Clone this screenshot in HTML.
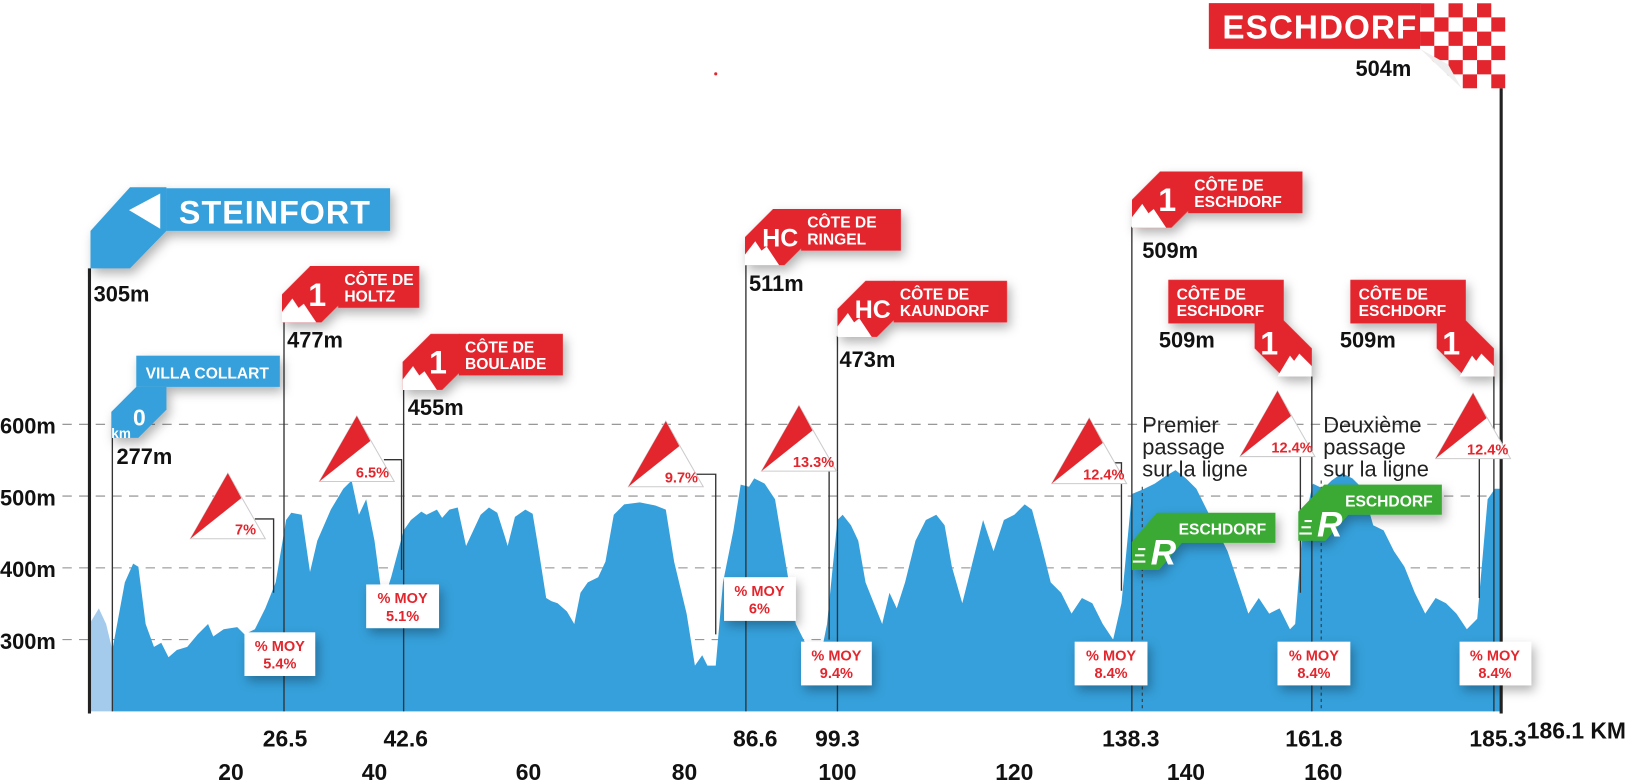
<!DOCTYPE html>
<html><head><meta charset="utf-8"><style>
html,body{margin:0;padding:0;background:#fff;}
svg{display:block;}
text{font-family:"Liberation Sans",sans-serif;}
.b{font-weight:bold;}
</style></head><body>
<svg width="1626" height="780" viewBox="0 0 1563 750" preserveAspectRatio="none" xmlns="http://www.w3.org/2000/svg">
<defs>
<filter id="sh" x="-30%" y="-30%" width="160%" height="170%"><feDropShadow dx="3" dy="5" stdDeviation="5" flood-color="#000" flood-opacity="0.3"/></filter>
<clipPath id="chk"><polygon points="1365,3 1447,3 1447,85 1405,85 1365,47"/></clipPath>
</defs>

<!-- grid -->
<g stroke="#8a8a8a" stroke-width="1" stroke-dasharray="9,7">
<line x1="60" y1="408" x2="1442" y2="408"/>
<line x1="60" y1="477" x2="1442" y2="477"/>
<line x1="60" y1="546" x2="1442" y2="546"/>
<line x1="60" y1="615" x2="1442" y2="615"/>
</g>
<g class="b" font-size="21" fill="#111">
<text x="0" y="417">600m</text><text x="0" y="486">500m</text><text x="0" y="555">400m</text><text x="0" y="624">300m</text>
</g>

<!-- profile -->
<polygon fill="#a4cbec" points="86,684 86,600 95,585 102,600 108,625 108,684"/>
<polygon fill="#35a0db" points="108,684 108,625 120,560 128,542 133,545 140,600 148,622 155,618 162,632 170,625 180,622 190,610 200,600 205,612 215,605 228,603 235,610 245,605 255,585 265,560 275,500 280,493 290,495 298,550 305,520 318,490 330,470 338,462 345,495 352,480 360,520 368,580 376,555 388,510 395,500 405,492 410,495 420,490 425,498 432,490 440,488 448,525 455,510 462,495 470,488 478,493 485,515 488,525 495,497 505,490 512,494 518,530 525,575 530,578 536,580 545,588 552,600 558,570 565,560 575,555 582,540 590,495 600,485 615,483 630,486 640,490 648,540 660,590 668,640 675,630 680,640 688,640 695,560 705,510 712,466 720,468 725,460 735,465 745,480 755,540 765,600 775,620 785,650 795,600 805,500 810,495 818,505 825,520 832,560 840,580 848,600 855,570 862,585 870,560 880,520 890,500 900,495 908,505 915,545 925,580 935,540 945,500 955,530 965,500 975,495 985,485 992,490 1000,520 1010,560 1020,570 1030,590 1040,575 1050,580 1060,600 1070,615 1078,580 1088,475 1100,470 1110,465 1120,458 1130,452 1140,460 1150,470 1160,490 1170,510 1180,530 1190,560 1200,590 1210,575 1220,590 1230,585 1240,605 1245,600 1252,510 1262,465 1272,470 1280,462 1290,455 1300,460 1310,470 1320,505 1330,510 1340,530 1350,545 1360,570 1370,590 1380,575 1390,580 1400,590 1410,605 1420,595 1430,480 1437,470 1442,470 1442,684"/>

<!-- poles -->
<g stroke="#333" stroke-width="1.3" fill="none">
<line x1="108" y1="420" x2="108" y2="684"/>
<line x1="273" y1="308" x2="273" y2="684"/>
<line x1="388" y1="374" x2="388" y2="684"/>
<line x1="717" y1="254" x2="717" y2="684"/>
<line x1="805" y1="323" x2="805" y2="684"/>
<line x1="1088" y1="218" x2="1088" y2="684"/>
<line x1="1261" y1="362" x2="1261" y2="684"/>
<line x1="1436" y1="362" x2="1436" y2="684"/>
<polyline points="245,499 263,499 263,570"/>
<polyline points="369,442 386,442 386,548"/>
<polyline points="668,456 688,456 688,610"/>
<polyline points="785,443 797,443 797,615"/>
<polyline points="1062,445 1078,445 1078,568"/>
<polyline points="1240,438 1250,438 1250,570"/>
<polyline points="1418,440 1422,440 1422,575"/>
</g>
<g stroke="#333" stroke-width="1" stroke-dasharray="3,3">
<line x1="1098" y1="468" x2="1098" y2="684"/>
<line x1="1270" y1="462" x2="1270" y2="684"/>
</g>
<line x1="86" y1="258" x2="86" y2="686" stroke="#222" stroke-width="3"/>
<line x1="1443" y1="80" x2="1443" y2="686" stroke="#222" stroke-width="3"/>

<!-- gradient triangles -->
<g font-size="14" class="b" fill="#e3262d">
<g transform="translate(219,455)"><polygon points="0,0 -36,63 36,63" fill="#fff" stroke="#ccc"/><polygon points="0,0 -36,63 13,24" fill="#e3262d"/><text x="17" y="59" text-anchor="middle" class="b">7%</text></g>
<g transform="translate(343,400)"><polygon points="0,0 -36,63 36,63" fill="#fff" stroke="#ccc"/><polygon points="0,0 -36,63 13,24" fill="#e3262d"/><text x="15" y="59" text-anchor="middle" class="b">6.5%</text></g>
<g transform="translate(640,405)"><polygon points="0,0 -36,63 36,63" fill="#fff" stroke="#ccc"/><polygon points="0,0 -36,63 13,24" fill="#e3262d"/><text x="15" y="59" text-anchor="middle" class="b">9.7%</text></g>
<g transform="translate(768,390)"><polygon points="0,0 -36,63 36,63" fill="#fff" stroke="#ccc"/><polygon points="0,0 -36,63 13,24" fill="#e3262d"/><text x="14" y="59" text-anchor="middle" class="b">13.3%</text></g>
<g transform="translate(1047,402)"><polygon points="0,0 -36,63 36,63" fill="#fff" stroke="#ccc"/><polygon points="0,0 -36,63 13,24" fill="#e3262d"/><text x="14" y="59" text-anchor="middle" class="b">12.4%</text></g>
<g transform="translate(1228,376)"><polygon points="0,0 -36,63 36,63" fill="#fff" stroke="#ccc"/><polygon points="0,0 -36,63 13,24" fill="#e3262d"/><text x="14" y="59" text-anchor="middle" class="b">12.4%</text></g>
<g transform="translate(1416,378)"><polygon points="0,0 -36,63 36,63" fill="#fff" stroke="#ccc"/><polygon points="0,0 -36,63 13,24" fill="#e3262d"/><text x="14" y="59" text-anchor="middle" class="b">12.4%</text></g>
</g>

<!-- MOY boxes -->
<g font-size="14" class="b" fill="#e3262d" text-anchor="middle">
<g filter="url(#sh)"><rect x="235" y="608" width="68" height="42" fill="#fff"/><rect x="352" y="562" width="70" height="42" fill="#fff"/><rect x="696" y="555" width="69" height="42" fill="#fff"/><rect x="770" y="617" width="68" height="42" fill="#fff"/><rect x="1033" y="617" width="70" height="42" fill="#fff"/><rect x="1228" y="617" width="70" height="42" fill="#fff"/><rect x="1403" y="617" width="69" height="42" fill="#fff"/></g>
<text x="269" y="626">% MOY</text><text x="269" y="643">5.4%</text>
<text x="387" y="580">% MOY</text><text x="387" y="597">5.1%</text>
<text x="730" y="573">% MOY</text><text x="730" y="590">6%</text>
<text x="804" y="635">% MOY</text><text x="804" y="652">9.4%</text>
<text x="1068" y="635">% MOY</text><text x="1068" y="652">8.4%</text>
<text x="1263" y="635">% MOY</text><text x="1263" y="652">8.4%</text>
<text x="1437" y="635">% MOY</text><text x="1437" y="652">8.4%</text>
</g>

<!-- Steinfort -->
<g filter="url(#sh)" fill="#35a0db">
<polygon points="87,222 125,180 160,180 160,222 125,258 87,258"/>
<rect x="160" y="181" width="215" height="41"/>
<polygon points="131,372 160,372 160,394 133,421 107,421 107,396"/>
<rect x="131" y="342" width="138" height="30"/>
</g>
<polygon points="124,202 154,186 154,220" fill="#fff"/>
<text x="172" y="215" font-size="31" class="b" fill="#fff" letter-spacing="1">STEINFORT</text>
<text x="140" y="364" font-size="15" class="b" fill="#fff">VILLA COLLART</text>
<text x="134" y="409" font-size="22" class="b" fill="#fff" text-anchor="middle">0</text>
<text x="107" y="421" font-size="13" class="b" fill="#fff">km</text>

<!-- climb flags -->
<g fill="#e3262d" filter="url(#sh)">
<g transform="translate(271,256)"><polygon points="0,27 27,0 55,0 55,37 38,54 0,54"/><rect x="54" y="0" width="78" height="40"/></g>
<g transform="translate(387,321)"><polygon points="0,27 27,0 55,0 55,37 38,54 0,54"/><rect x="54" y="0" width="100" height="40"/></g>
<g transform="translate(716,201)"><polygon points="0,27 27,0 55,0 55,37 38,54 0,54"/><rect x="54" y="0" width="96" height="40"/></g>
<g transform="translate(805,270)"><polygon points="0,27 27,0 55,0 55,37 38,54 0,54"/><rect x="54" y="0" width="109" height="40"/></g>
<g transform="translate(1088,165)"><polygon points="0,27 27,0 55,0 55,37 38,54 0,54"/><rect x="54" y="0" width="110" height="40"/></g>
<g transform="translate(1261,308) scale(-1,1)"><polygon points="0,27 27,0 55,0 55,27 28,54 0,54"/></g>
<rect x="1123" y="269" width="111" height="42"/>
<g transform="translate(1436,308) scale(-1,1)"><polygon points="0,27 27,0 55,0 55,27 28,54 0,54"/></g>
<rect x="1298" y="269" width="111" height="42"/>
</g>
<g fill="#fff">
<g transform="translate(271,256)"><polygon points="0,54 0,44 10,31 16,40 21,36 33,54"/></g>
<g transform="translate(387,321)"><polygon points="0,54 0,44 10,31 16,40 21,36 33,54"/></g>
<g transform="translate(716,201)"><polygon points="0,54 0,44 10,31 16,40 21,36 33,54"/></g>
<g transform="translate(805,270)"><polygon points="0,54 0,44 10,31 16,40 21,36 33,54"/></g>
<g transform="translate(1088,165)"><polygon points="0,54 0,44 10,31 16,40 21,36 33,54"/></g>
<g transform="translate(1261,362)"><polygon points="0,0 -33,0 -21,-20 -17,-15 -12,-22 0,-10"/></g>
<g transform="translate(1436,362)"><polygon points="0,0 -33,0 -21,-20 -17,-15 -12,-22 0,-10"/></g>
</g>
<g class="b" fill="#fff">
<text x="305" y="294" font-size="31" text-anchor="middle">1</text>
<text x="421" y="359" font-size="31" text-anchor="middle">1</text>
<text x="750" y="237" font-size="24" text-anchor="middle">HC</text>
<text x="839" y="306" font-size="24" text-anchor="middle">HC</text>
<text x="1122" y="203" font-size="31" text-anchor="middle">1</text>
<text x="1220" y="341" font-size="31" text-anchor="middle">1</text>
<text x="1395" y="341" font-size="31" text-anchor="middle">1</text>
<g font-size="15">
<text x="331" y="274">CÔTE DE</text><text x="331" y="290">HOLTZ</text>
<text x="447" y="339">CÔTE DE</text><text x="447" y="355">BOULAIDE</text>
<text x="776" y="219">CÔTE DE</text><text x="776" y="235">RINGEL</text>
<text x="865" y="288">CÔTE DE</text><text x="865" y="304">KAUNDORF</text>
<text x="1148" y="183">CÔTE DE</text><text x="1148" y="199">ESCHDORF</text>
<text x="1131" y="288">CÔTE DE</text><text x="1131" y="304">ESCHDORF</text>
<text x="1306" y="288">CÔTE DE</text><text x="1306" y="304">ESCHDORF</text>
</g>
</g>

<!-- R flags -->
<g fill="#3aaa35" filter="url(#sh)">
<polygon points="1088,521 1112,493 1226,493 1226,522 1136,522 1114,548 1088,548"/>
<polygon points="1248,492 1273,466 1386,466 1386,495 1296,495 1274,520 1248,520"/>
</g>
<g fill="#fff" class="b">
<text x="1106" y="543" font-size="34" font-style="italic">R</text>
<text x="1133" y="514" font-size="15">ESCHDORF</text>
<rect x="1094" y="527" width="7" height="2"/><rect x="1091" y="533" width="9" height="2"/><rect x="1089" y="539" width="12" height="2"/>
<text x="1266" y="516" font-size="34" font-style="italic">R</text>
<text x="1293" y="487" font-size="15">ESCHDORF</text>
<rect x="1254" y="500" width="7" height="2"/><rect x="1251" y="506" width="9" height="2"/><rect x="1249" y="512" width="12" height="2"/>
</g>

<!-- Finish -->
<rect x="1162" y="3" width="204" height="44" fill="#e3262d"/>
<text x="1175" y="37" font-size="32" class="b" fill="#fff" letter-spacing="1">ESCHDORF</text>
<g clip-path="url(#chk)">
<rect x="1365" y="3" width="82" height="82" fill="#fff"/>
<g fill="#e3262d">
<rect x="1365" y="3" width="13.7" height="13.7"/><rect x="1392.4" y="3" width="13.7" height="13.7"/><rect x="1419.8" y="3" width="13.7" height="13.7"/>
<rect x="1378.7" y="16.7" width="13.7" height="13.7"/><rect x="1406.1" y="16.7" width="13.7" height="13.7"/><rect x="1433.5" y="16.7" width="13.7" height="13.7"/>
<rect x="1365" y="30.4" width="13.7" height="13.7"/><rect x="1392.4" y="30.4" width="13.7" height="13.7"/><rect x="1419.8" y="30.4" width="13.7" height="13.7"/>
<rect x="1378.7" y="44.1" width="13.7" height="13.7"/><rect x="1406.1" y="44.1" width="13.7" height="13.7"/><rect x="1433.5" y="44.1" width="13.7" height="13.7"/>
<rect x="1365" y="57.8" width="13.7" height="13.7"/><rect x="1392.4" y="57.8" width="13.7" height="13.7"/><rect x="1419.8" y="57.8" width="13.7" height="13.7"/>
<rect x="1378.7" y="71.5" width="13.7" height="13.7"/><rect x="1406.1" y="71.5" width="13.7" height="13.7"/><rect x="1433.5" y="71.5" width="13.7" height="13.7"/>
</g></g>
<polygon points="1365,47 1405,85 1392,62" fill="#eee"/>
<circle cx="688" cy="71" r="1.5" fill="#e3262d"/>

<!-- elevations -->
<g class="b" font-size="21" fill="#111">
<text x="90" y="290">305m</text>
<text x="112" y="446">277m</text>
<text x="276" y="334">477m</text>
<text x="392" y="399">455m</text>
<text x="720" y="280">511m</text>
<text x="807" y="353">473m</text>
<text x="1098" y="248">509m</text>
<text x="1114" y="334">509m</text>
<text x="1288" y="334">509m</text>
<text x="1303" y="73">504m</text>
</g>

<!-- passage texts -->
<g font-size="21" fill="#222">
<text x="1098" y="416">Premier</text><text x="1098" y="437">passage</text><text x="1098" y="458">sur la ligne</text>
<text x="1272" y="416">Deuxième</text><text x="1272" y="437">passage</text><text x="1272" y="458">sur la ligne</text>
</g>

<!-- km axis -->
<g class="b" font-size="22" fill="#111" text-anchor="middle">
<text x="274" y="718">26.5</text><text x="390" y="718">42.6</text><text x="726" y="718">86.6</text><text x="805" y="718">99.3</text>
<text x="1087" y="718">138.3</text><text x="1263" y="718">161.8</text><text x="1440" y="718">185.3</text>
<text x="222" y="750">20</text><text x="360" y="750">40</text><text x="508" y="750">60</text><text x="658" y="750">80</text>
<text x="805" y="750">100</text><text x="975" y="750">120</text><text x="1140" y="750">140</text><text x="1272" y="750">160</text>
<text x="1563" y="710" text-anchor="end">186.1 KM</text>
</g>
</svg>
</body></html>
